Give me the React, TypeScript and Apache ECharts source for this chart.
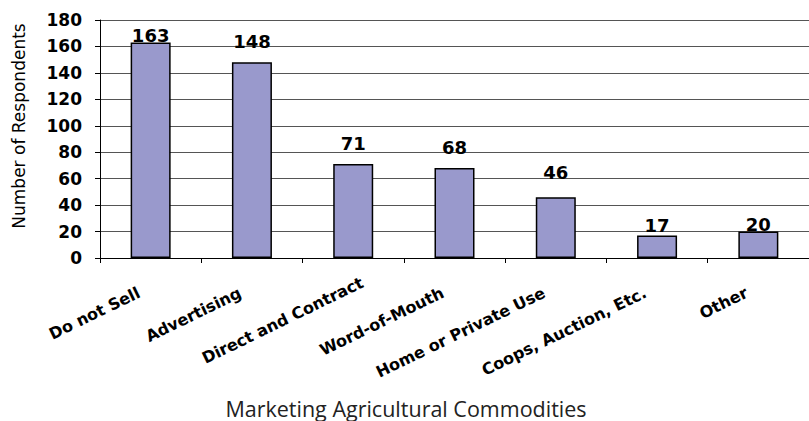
import React, { useEffect, useRef } from "react";
import * as echarts from "echarts";

const categories = [
  "Do not Sell",
  "Advertising",
  "Direct and Contract",
  "Word-of-Mouth",
  "Home or Private Use",
  "Coops, Auction, Etc.",
  "Other",
];
const respondents = [163, 148, 71, 68, 46, 17, 20];
const yTicks = { min: 0, max: 180, interval: 20 };
const yAxisTitle = "Number of Respondents";
const xAxisTitle = "Marketing Agricultural Commodities";

// label gap above each bar (style, not data)
const labelLift = [-2, 12, 12, 12, 16, 1, -2];
// per-category label shift along the rotated text (style)
const xLabelPad = [13, 13, -10, 13, 13, 13, 13];

export default function App() {
  const ref = useRef<HTMLDivElement>(null);
  useEffect(() => {
    if (!ref.current) return;
    const chart = echarts.init(ref.current, undefined, { renderer: "svg" });
    chart.setOption({
      animation: false,
      backgroundColor: "#ffffff",
      grid: { left: 100, top: 20, width: 711, height: 238, containLabel: false },
      xAxis: {
        type: "category",
        data: categories.map((c, i) => ({
          value: c,
          textStyle: { padding: [0, xLabelPad[i], 0, 0] },
        })),
        boundaryGap: true,
        axisLine: { show: true, lineStyle: { color: "#000", width: 1 } },
        axisTick: { show: true, length: 5, alignWithLabel: false, interval: 0, lineStyle: { color: "#000" } },
        axisLabel: {
          interval: 0,
          rotate: 26,
          margin: 28,
          color: "#000",
          fontFamily: "DejaVu Sans",
          fontWeight: "bold",
          fontSize: 16,
        },
        splitLine: { show: false },
      },
      yAxis: {
        type: "value",
        min: yTicks.min,
        max: yTicks.max,
        interval: yTicks.interval,
        name: yAxisTitle,
        nameLocation: "middle",
        nameGap: 73,
        nameTextStyle: {
          color: "#000",
          fontFamily: "DejaVu Sans",
          fontSize: 17,
          padding: [0, 0, 0, 26],
        },
        axisLine: { show: true, lineStyle: { color: "#000", width: 1 } },
        axisTick: { show: true, length: 5, lineStyle: { color: "#000" } },
        axisLabel: {
          margin: 18,
          color: "#000",
          fontFamily: "DejaVu Sans",
          fontWeight: "bold",
          fontSize: 17,
        },
        splitLine: { show: true, lineStyle: { color: "#555", width: 1 } },
      },
      graphic: [
        {
          type: "text",
          x: 406,
          y: 419,
          style: {
            text: xAxisTitle,
            fill: "#222",
            font: '21.5px "Open Sans"',
            textAlign: "center",
            textVerticalAlign: "bottom",
          },
        },
      ],
      series: [
        {
          type: "bar",
          barWidth: 40,
          data: respondents.map((v, i) => ({
            value: v,
            label: { distance: labelLift[i] },
          })),
          itemStyle: { color: "#9999cc", borderColor: "#000", borderWidth: 1.5 },
          label: {
            show: true,
            position: "top",
            color: "#000",
            fontFamily: "DejaVu Sans",
            fontWeight: "bold",
            fontSize: 18,
          },
        },
      ],
    });
    return () => chart.dispose();
  }, []);
  return (
    <div
      ref={ref}
      style={{ position: "fixed", left: 0, top: 0, width: 809, height: 421 }}
    />
  );
}
